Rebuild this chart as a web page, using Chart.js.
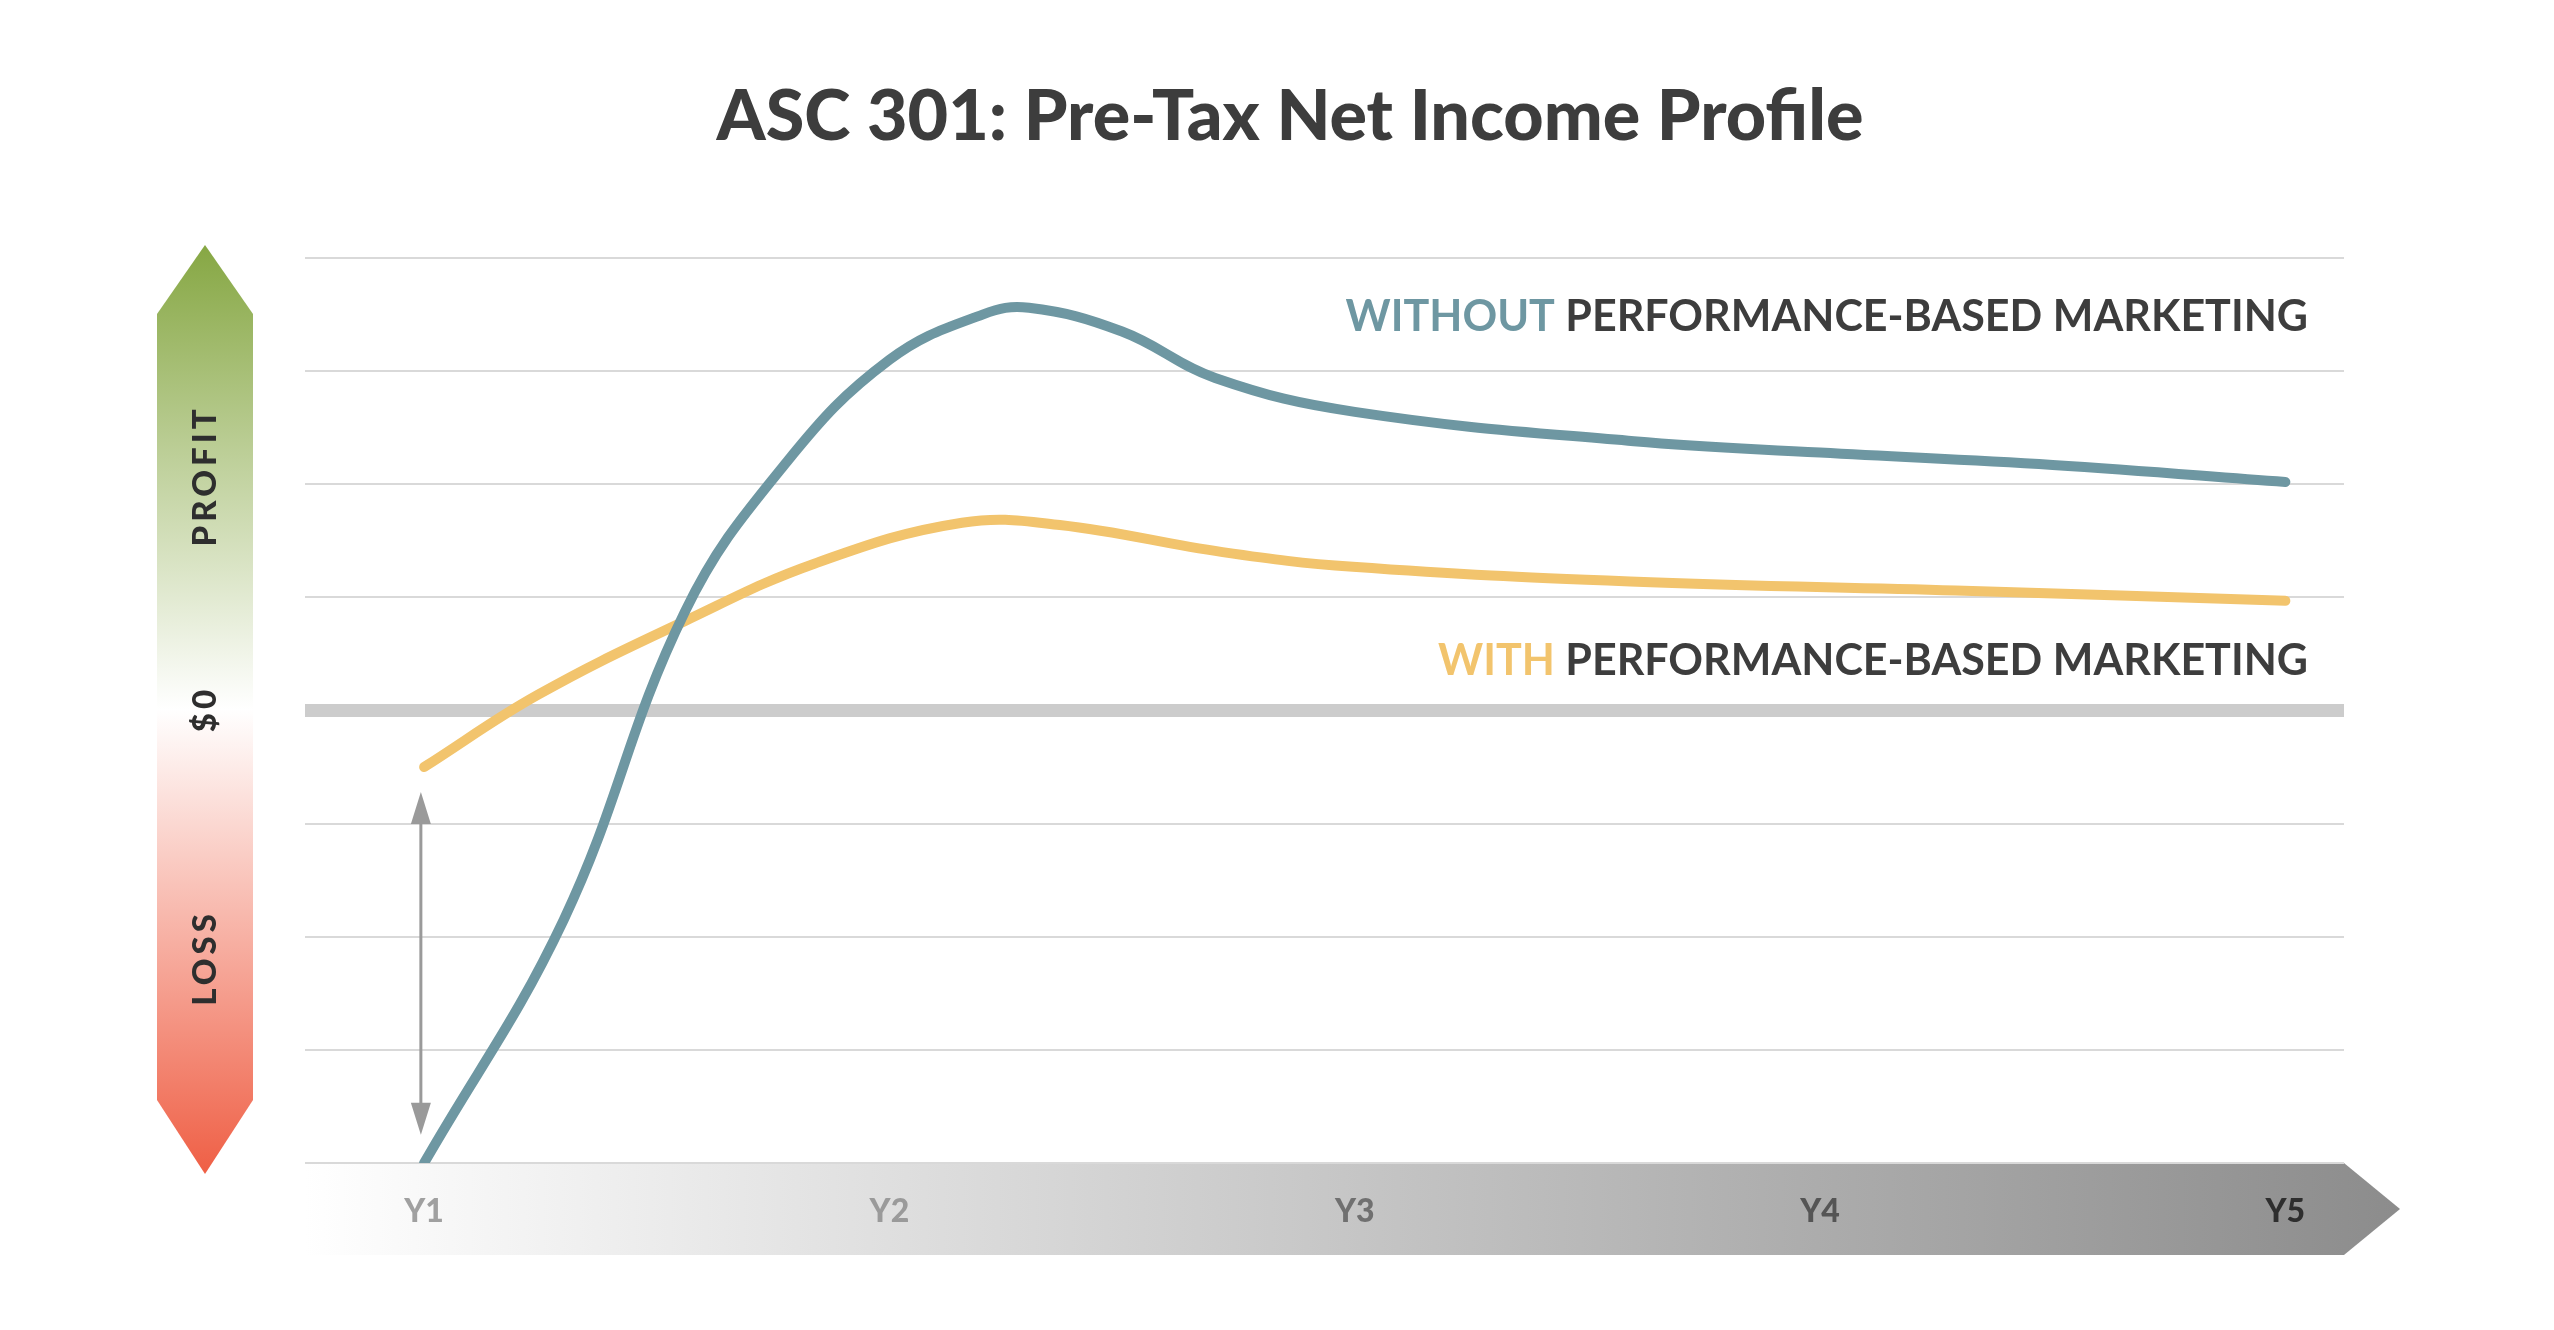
<!DOCTYPE html>
<html><head><meta charset="utf-8">
<script src="https://cdn.jsdelivr.net/npm/chart.js@4"></script>
<style>html,body{margin:0;padding:0;background:#fff;}canvas{display:block;}</style>
</head><body>
<canvas id="c" width="2554" height="1330" style="width:2554px;height:1330px"></canvas>
<script>
const title = "ASC 301: Pre-Tax Net Income Profile";
const yearLabels = ["Y1","Y2","Y3","Y4","Y5"];
const yearValues = [1,2,3,4,5];
const withoutX = [1.0,1.3,1.56,1.78,2.0,2.2,2.3,2.5,2.7,3.0,3.6,4.0,4.5,5.0];
const withoutY = [-4.0,-1.85,0.87,2.2,3.1,3.5,3.56,3.35,2.94,2.64,2.38,2.28,2.17,2.02];
const withX = [1.0,1.245,1.56,1.84,2.156,2.366,2.716,2.996,3.592,4.292,5.0];
const withY = [-0.5,0.14,0.79,1.3,1.66,1.64,1.4,1.27,1.14,1.06,0.97];
const labelWithout = ["WITHOUT"," PERFORMANCE-BASED MARKETING"];
const labelWith = ["WITH"," PERFORMANCE-BASED MARKETING"];
const sideLabels = ["PROFIT","$0","LOSS"];

const BLUE="#6e97a2", ORANGE="#f2c46d", DARK="#3d3d3d", F="Lato, 'Open Sans', sans-serif";

const deco = {
  id:"deco",
  beforeDraw(chart){
    const c=chart.ctx, xs=chart.scales.x, a=chart.chartArea;
    c.save();
    c.fillStyle=DARK; c.font="900 70px "+F; c.textAlign="center"; c.textBaseline="middle";
    c.fillText(title,1290,117);
    let g=c.createLinearGradient(0,245,0,1174);
    g.addColorStop(0,"#86a743"); g.addColorStop(0.5,"#ffffff"); g.addColorStop(1,"#ef5f45");
    c.fillStyle=g; c.beginPath();
    c.moveTo(205,245); c.lineTo(253,314); c.lineTo(253,1100); c.lineTo(205,1174);
    c.lineTo(157,1100); c.lineTo(157,314); c.closePath(); c.fill();
    c.fillStyle="#2e2e2e"; c.font="900 33px "+F;
    const sy=[476,709,958];
    sideLabels.forEach((t,i)=>{c.save();c.translate(205,sy[i]);c.rotate(-Math.PI/2);
      if(c.letterSpacing!==undefined) c.letterSpacing="4px"; c.fillText(t,0,0);c.restore();});
    g=c.createLinearGradient(a.left,0,2400,0);
    g.addColorStop(0,"#ffffff"); g.addColorStop(1,"#8c8c8c");
    c.fillStyle=g; c.beginPath();
    c.moveTo(a.left,a.bottom); c.lineTo(2344,a.bottom); c.lineTo(2400,1209);
    c.lineTo(2344,1255); c.lineTo(a.left,1255); c.closePath(); c.fill();
    c.font="900 32px "+F;
    const cols=["#a0a0a0","#9a9a9a","#707070","#555555","#2e2e2e"];
    yearLabels.forEach((t,i)=>{c.fillStyle=cols[i];c.fillText(t,xs.getPixelForValue(yearValues[i]),1212);});
    c.restore();
  },
  afterDatasetsDraw(chart){
    const c=chart.ctx, xs=chart.scales.x, ys=chart.scales.y;
    c.save();
    const x=xs.getPixelForValue(0.993), y1=ys.getPixelForValue(-0.72), y2=ys.getPixelForValue(-3.75);
    c.strokeStyle="#9a9a9a"; c.fillStyle="#9a9a9a"; c.lineWidth=3;
    c.beginPath(); c.moveTo(x,y1+20); c.lineTo(x,y2-20); c.stroke();
    c.beginPath(); c.moveTo(x,y1); c.lineTo(x-10,y1+32); c.lineTo(x+10,y1+32); c.fill();
    c.beginPath(); c.moveTo(x,y2); c.lineTo(x-10,y2-32); c.lineTo(x+10,y2-32); c.fill();
    c.font="bold 43px "+F; c.textBaseline="middle"; c.textAlign="left";
    const draw=(parts,col,y)=>{const w0=c.measureText(parts[0]).width,w1=c.measureText(parts[1]).width;
      let x0=2308-w0-w1; c.fillStyle=col; c.fillText(parts[0],x0,y); c.fillStyle=DARK; c.fillText(parts[1],x0+w0,y);};
    draw(labelWithout,BLUE,317); draw(labelWith,ORANGE,661);
    c.restore();
  }
};

new Chart(document.getElementById("c"),{
  type:"line",
  data:{datasets:[
    {data:withoutX.map((x,i)=>({x,y:withoutY[i]})),borderColor:BLUE,borderWidth:10,pointRadius:0,tension:0.4,borderCapStyle:"round"},
    {data:withX.map((x,i)=>({x,y:withY[i]})),borderColor:ORANGE,borderWidth:10,pointRadius:0,tension:0.4,borderCapStyle:"round"}
  ]},
  options:{
    responsive:false,animation:false,devicePixelRatio:1,
    layout:{padding:{left:305,right:210,top:258,bottom:167}},
    plugins:{legend:{display:false},tooltip:{enabled:false}},
    scales:{
      x:{type:"linear",min:0.744,max:5.126,display:false},
      y:{min:-4,max:4,border:{display:false},
        ticks:{display:false,stepSize:1},
        afterFit(s){s.width=0;},
        grid:{drawTicks:false,color:ctx=>ctx.tick&&ctx.tick.value===0?"#cccccc":"#d9d9d9",
              lineWidth:ctx=>ctx.tick&&ctx.tick.value===0?13:2}}
    }
  },
  plugins:[deco]
});
</script>
</body></html>
